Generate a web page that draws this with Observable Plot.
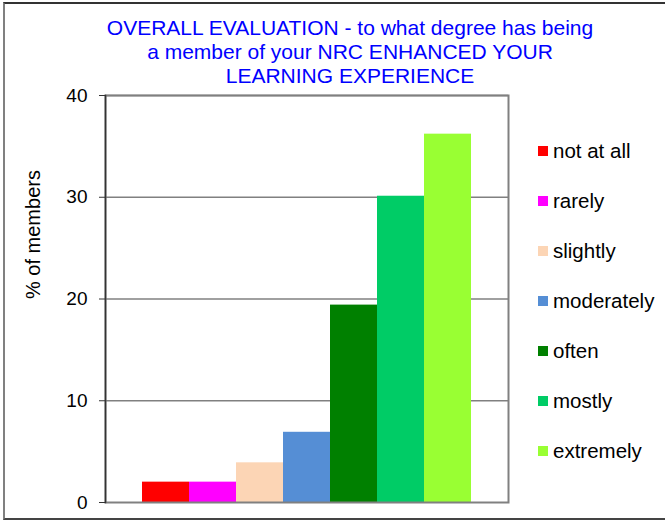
<!DOCTYPE html>
<html>
<head>
<meta charset="utf-8">
<script src="https://cdn.jsdelivr.net/npm/d3@7"></script>
<script src="https://cdn.jsdelivr.net/npm/@observablehq/plot@0.6"></script>
<style>
  html, body { margin: 0; padding: 0; background: #fff; }
  #wrap { position: relative; width: 665px; height: 523px; overflow: hidden; font-family: "Liberation Sans", Arial, sans-serif; }
  #border { position: absolute; left: 3px; top: 2px; width: 700px; height: 518px; border-left: 2px solid #808080; border-top: 2px solid #333; border-bottom: 2px solid #444; box-sizing: border-box; }
  #title { position: absolute; left: 0; top: 16px; width: 700px; text-align: center; color: #0000FF; font-size: 21px; line-height: 24px; }
  #chart { position: absolute; left: 0; top: 0; }
  #legend { position: absolute; left: 538px; top: 0; font-size: 20.5px; color: #000; }
  .item { position: absolute; left: 0; white-space: nowrap; height: 24px; line-height: 24px; }
  .sw { position: absolute; left: 0; top: 7px; width: 10px; height: 10px; }
  .lb { position: absolute; left: 15px; top: 0; }
</style>
</head>
<body>
<div id="wrap">
  <div id="chart"></div>
  <div id="border"></div>
  <div id="title"></div>
  <div id="legend"></div>
</div>
<script>
const categories = ["not at all", "rarely", "slightly", "moderately", "often", "mostly", "extremely"];
const values = [2.0, 2.0, 3.9, 6.9, 19.4, 30.1, 36.2];
const colors = ["#FF0000", "#FF00FF", "#FCD5B5", "#558ED5", "#008000", "#00CC66", "#99FF33"];
const yTicks = [0, 10, 20, 30, 40];
const titleLines = [
  "OVERALL EVALUATION - to what degree has being",
  "a member of your NRC ENHANCED YOUR",
  "LEARNING EXPERIENCE"
];
const yLabel = "% of members";

const data = categories.map((c, i) => ({category: c, value: values[i]}));

const plot = Plot.plot({
  width: 665,
  height: 523,
  marginTop: 95,
  marginBottom: 21,
  marginLeft: 105,
  marginRight: 157,
  style: {fontFamily: "Liberation Sans, Arial, sans-serif", fontSize: "19px", color: "#000", background: "transparent"},
  x: {domain: categories, paddingInner: 0, paddingOuter: 0.735, axis: null},
  y: {domain: [0, 40], axis: null},
  color: {domain: categories, range: colors},
  marks: [
    Plot.gridY(yTicks.filter(t => t > 0), {stroke: "#808080", strokeOpacity: 1, strokeWidth: 1.5}),
    Plot.barY(data, {x: "category", y: "value", fill: "category"}),
    Plot.frame({stroke: "#808080", strokeWidth: 2}),
    Plot.frame({anchor: "left", stroke: "#333", strokeWidth: 1.5}),
    Plot.axisY({ticks: yTicks, tickSize: 6, tickPadding: 12, label: null, stroke: "#333"}),
    Plot.text([yLabel], {frameAnchor: "left", rotate: -90, dx: -72, dy: 0, fontSize: 20, fill: "#000"})
  ]
});
document.getElementById("chart").appendChild(plot);

const t = document.getElementById("title");
titleLines.forEach(l => { const d = document.createElement("div"); d.textContent = l; t.appendChild(d); });

const lg = document.getElementById("legend");
categories.forEach((c, i) => {
  const it = document.createElement("div");
  it.className = "item";
  it.style.top = (151 + i * 50 - 12) + "px";
  const sw = document.createElement("span");
  sw.className = "sw";
  sw.style.background = colors[i];
  const lb = document.createElement("span");
  lb.className = "lb";
  lb.textContent = c;
  it.appendChild(sw); it.appendChild(lb);
  lg.appendChild(it);
});
</script>
</body>
</html>
